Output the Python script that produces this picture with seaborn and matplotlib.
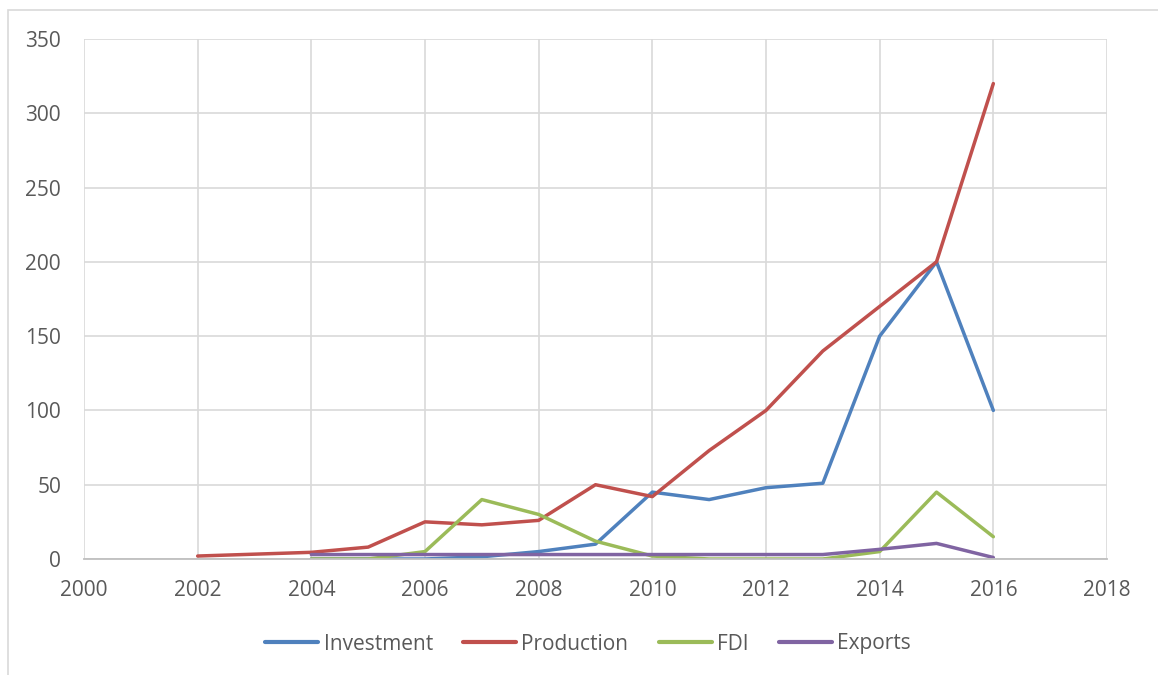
import numpy as np
import pandas as pd
import matplotlib
matplotlib.use("Agg")
import matplotlib.pyplot as plt
from matplotlib.patches import Rectangle
import seaborn as sns

# Series values by year (NaN where a series has no value)
years = [2002, 2004, 2005, 2006, 2007, 2008, 2009, 2010, 2011, 2012, 2013, 2014, 2015, 2016]
investment = [np.nan, 0, 0, 0, 1.5, 5, 10, 45, 40, 48, 51, 150, 200, 100]
production = [2, 4.5, 8, 25, 23, 26, 50, 42, 73, 100, 140, 170, 200, 320]
fdi = [np.nan, 0, 0, 5, 40, 30, 12, 2, 0, 0, 0, 5, 45, 15]
exports = [np.nan, 3, 3, 3, 3, 3, 3, 3, 3, 3, 3, 6.5, 10.5, 1]

series_names = ["Investment", "Production", "FDI", "Exports"]
series_colors = ["#4F81BD", "#C0504D", "#9BBB59", "#8064A2"]
x_ticks = list(range(2000, 2019, 2))
y_ticks = list(range(0, 351, 50))

df = pd.DataFrame({"year": years, "Investment": investment, "Production": production,
                   "FDI": fdi, "Exports": exports})
long_df = df.melt(id_vars="year", var_name="series", value_name="value")

sns.set_theme(style="white")
plt.rcParams["font.family"] = ["Open Sans", "DejaVu Sans"]

W, H = 1158, 675
fig = plt.figure(figsize=(W / 100, H / 100), dpi=100)
ax = fig.add_axes([84 / W, 1 - 559 / H, (1107 - 84) / W, (559 - 39) / H])

sns.lineplot(data=long_df, x="year", y="value", hue="series", hue_order=series_names,
             palette=series_colors, linewidth=2.5, ax=ax, legend=True, sort=False,
             estimator=None)

ax.set_xlim(2000, 2018)
ax.set_ylim(0, 350)
ax.set_xticks(x_ticks)
ax.set_yticks(y_ticks)
ax.set_xticklabels([str(t) for t in x_ticks])
ax.set_yticklabels([str(t) for t in y_ticks])
ax.tick_params(axis="both", length=0, labelsize=15, colors="#595959")
ax.tick_params(axis="x", pad=15)
ax.tick_params(axis="y", pad=16.5)
ax.set_xlabel("")
ax.set_ylabel("")
ax.grid(True, color="#d9d9d9", linewidth=1.2)
ax.set_axisbelow(True)
for side in ["top", "right", "left"]:
    ax.spines[side].set_visible(False)
ax.spines["bottom"].set_color("#bfbfbf")
ax.spines["bottom"].set_linewidth(1.3)

handles, labels = ax.get_legend_handles_labels()
for h in handles:
    h.set_linewidth(3)
    h.set_solid_capstyle("round")
ax.legend(handles, labels, loc="center", bbox_to_anchor=(588 / W, 1 - 644 / H),
          bbox_transform=fig.transFigure, ncol=4, frameon=False, fontsize=15,
          labelcolor="#595959", handlelength=2.55, handletextpad=0.25, columnspacing=1.45)

# Outer chart frame
fig.patches.append(Rectangle((8 / W, -0.2), 1.2, 1 - 10 / H + 0.2, transform=fig.transFigure,
                             fill=False, edgecolor="#d9d9d9", linewidth=1.2, clip_on=False))

fig.savefig("out.png", dpi=100, facecolor="white")
